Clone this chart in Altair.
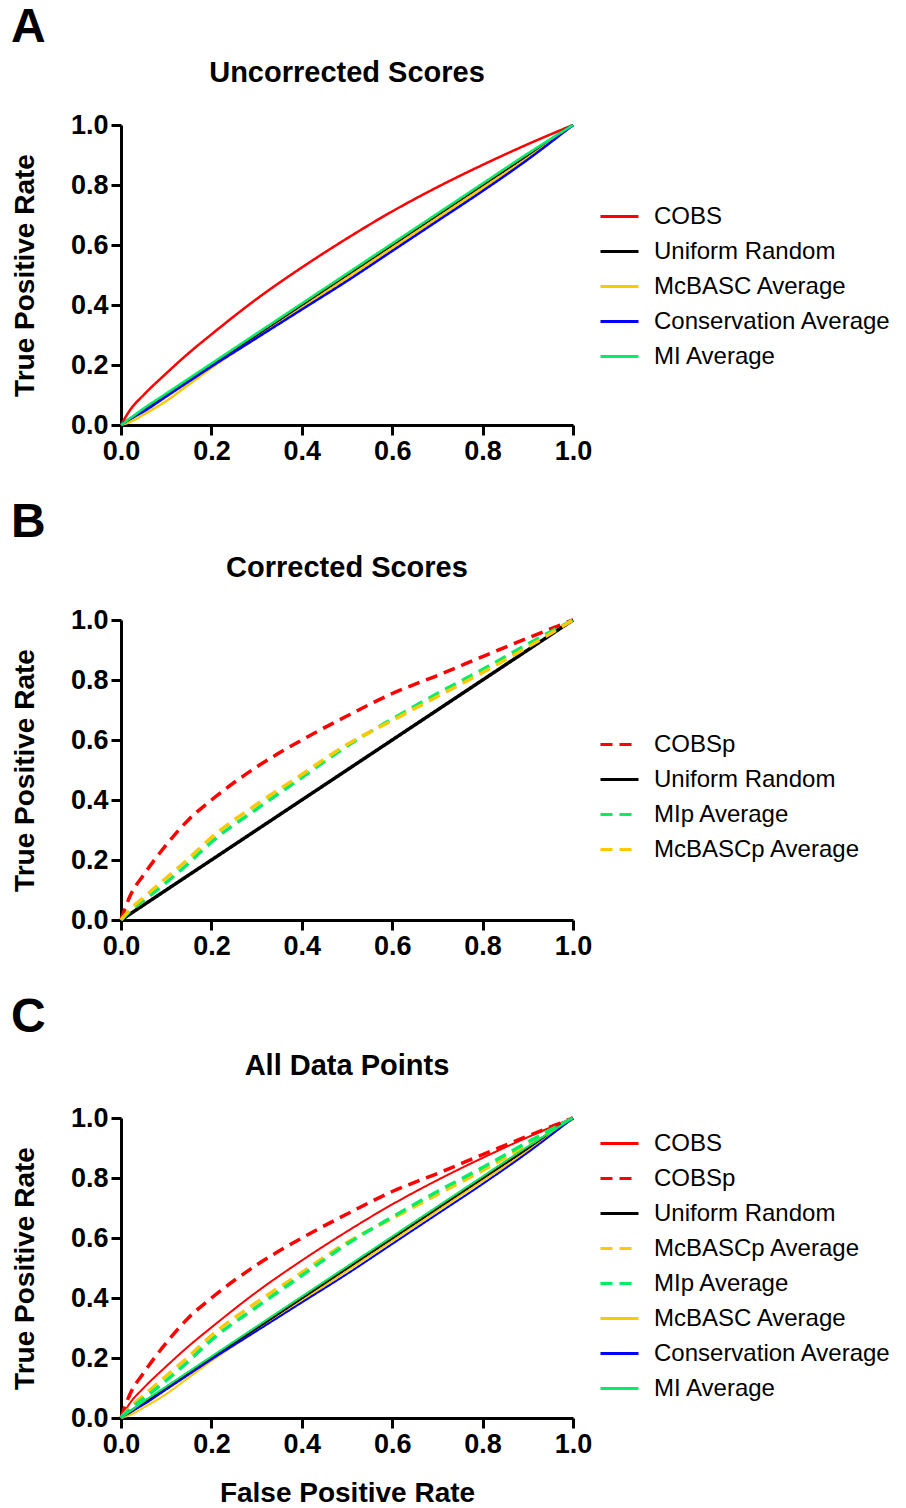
import altair as alt
import pandas as pd

FONT = "Liberation Sans"

FPR = [0, 0.02, 0.05, 0.1, 0.15, 0.2, 0.3, 0.4, 0.5, 0.6, 0.7, 0.8, 0.9, 1.0]

COBS = [0, 0.05, 0.10, 0.172, 0.240, 0.302, 0.42, 0.525, 0.622, 0.712, 0.793, 0.867, 0.936, 1.0]
UNIFORM = [0, 0.02, 0.05, 0.1, 0.15, 0.2, 0.3, 0.4, 0.5, 0.6, 0.7, 0.8, 0.9, 1.0]
MCBASC = [0, 0.01, 0.035, 0.08, 0.135, 0.19, 0.29, 0.39, 0.49, 0.59, 0.69, 0.79, 0.89, 1.0]
CONSERV = [0, 0.02, 0.045, 0.095, 0.145, 0.195, 0.29, 0.385, 0.48, 0.58, 0.68, 0.78, 0.885, 1.0]
MI = [0, 0.022, 0.055, 0.105, 0.155, 0.205, 0.305, 0.405, 0.505, 0.605, 0.705, 0.805, 0.905, 1.0]

COBSP = [0, 0.08, 0.15, 0.25, 0.335, 0.40, 0.51, 0.60, 0.68, 0.755, 0.815, 0.878, 0.94, 1.0]
MIP = [0, 0.03, 0.065, 0.125, 0.19, 0.26, 0.37, 0.475, 0.58, 0.67, 0.755, 0.835, 0.92, 1.0]
MCBASCP = [0, 0.035, 0.075, 0.14, 0.205, 0.275, 0.385, 0.485, 0.585, 0.665, 0.745, 0.825, 0.91, 1.0]

TICKS = [0, 0.2, 0.4, 0.6, 0.8, 1.0]

RED = "#FF0000"
BLACK = "#000000"
YELLOW = "#FFC800"
BLUE = "#0000FF"
GREEN = "#00EE66"
SOLID = [1, 0]
DASH = [12, 7]

A_NAMES = ["COBS", "Uniform Random", "McBASC Average", "Conservation Average", "MI Average"]
A_VALUES = [COBS, UNIFORM, MCBASC, CONSERV, MI]
A_COLORS = [RED, BLACK, YELLOW, BLUE, GREEN]
A_DASHES = [SOLID, SOLID, SOLID, SOLID, SOLID]
A_THICK = ["Uniform Random"]

B_NAMES = ["COBSp", "Uniform Random", "MIp Average", "McBASCp Average"]
B_VALUES = [COBSP, UNIFORM, MIP, MCBASCP]
B_COLORS = [RED, BLACK, GREEN, YELLOW]
B_DASHES = [DASH, SOLID, DASH, DASH]
B_THICK = B_NAMES

C_NAMES = ["COBS", "COBSp", "Uniform Random", "McBASCp Average", "MIp Average",
           "McBASC Average", "Conservation Average", "MI Average"]
C_VALUES = [COBS, COBSP, UNIFORM, MCBASCP, MIP, MCBASC, CONSERV, MI]
C_COLORS = [RED, RED, BLACK, YELLOW, GREEN, YELLOW, BLUE, GREEN]
C_DASHES = [SOLID, DASH, SOLID, DASH, DASH, SOLID, SOLID, SOLID]
C_THICK = ["COBSp", "McBASCp Average", "MIp Average", "Uniform Random"]


def make_df(names, values):
    rows = []
    for n, ys in zip(names, values):
        for x, y in zip(FPR, ys):
            rows.append({"series": n, "fpr": x, "tpr": y})
    return pd.DataFrame(rows)


def panel(letter, letter_y, title, names, values, colors, dashes, thick, thin_w, thick_w,
          lx, ly, xtitle):
    df = make_df(names, values)
    legend = alt.Legend(
        title=None, orient="none", legendX=lx, legendY=ly,
        labelFont=FONT, labelFontSize=24, labelColor="black", labelOffset=14,
        symbolSize=1444, symbolStrokeWidth=3, symbolType="stroke", rowPadding=2,
        labelLimit=400,
    )
    lines = alt.Chart(df).mark_line(interpolate="monotone").encode(
        x=alt.X("fpr:Q", scale=alt.Scale(domain=[0, 1], nice=False),
                axis=alt.Axis(values=TICKS, format=".1f", title=xtitle, titlePadding=22)),
        y=alt.Y("tpr:Q", scale=alt.Scale(domain=[0, 1], nice=False),
                axis=alt.Axis(values=TICKS, format=".1f", title="True Positive Rate",
                              titlePadding=31)),
        color=alt.Color("series:N", scale=alt.Scale(domain=names, range=colors), legend=legend),
        strokeDash=alt.StrokeDash("series:N", scale=alt.Scale(domain=names, range=dashes),
                                  legend=legend),
        strokeWidth=alt.condition(
            alt.FieldOneOfPredicate(field="series", oneOf=thick),
            alt.value(thick_w), alt.value(thin_w)),
    )
    lab = alt.Chart(pd.DataFrame({"t": [letter]})).mark_text(
        font=FONT, fontSize=48, fontWeight="bold", align="left", baseline="alphabetic",
        color="black"
    ).encode(text="t:N", x=alt.value(-110), y=alt.value(letter_y))
    ttl = alt.Chart(pd.DataFrame({"t": [title]})).mark_text(
        font=FONT, fontSize=29, fontWeight="bold", align="center", baseline="alphabetic",
        color="black"
    ).encode(text="t:N", x=alt.value(226), y=alt.value(-43))
    return alt.layer(lines, lab, ttl).properties(width=452, height=300)


pa = panel("A", -83, "Uncorrected Scores", A_NAMES, A_VALUES, A_COLORS, A_DASHES, A_THICK,
           2.5, 3, 478, 71, None)
pb = panel("B", -83, "Corrected Scores", B_NAMES, B_VALUES, B_COLORS, B_DASHES, B_THICK,
           3.5, 3.5, 478, 104, None)
pc = panel("C", -86, "All Data Points", C_NAMES, C_VALUES, C_COLORS, C_DASHES, C_THICK,
           2, 3.5, 478, 5, "False Positive Rate")

chart = alt.vconcat(pa, pb, pc, spacing=35).resolve_scale(
    color="independent", strokeDash="independent"
).resolve_legend(
    color="independent", strokeDash="independent"
).properties(
    padding={"top": -4, "left": 3, "right": 0, "bottom": 0}
).configure_axis(
    domainColor="black", domainWidth=3, tickColor="black", tickWidth=3, tickSize=10,
    labelFont=FONT, labelFontSize=27, labelFontWeight="bold", labelColor="black",
    labelPadding=3, labelFlush=False, labelOverlap=False,
    titleFont=FONT, titleFontSize=28, titleFontWeight="bold", titleColor="black",
    grid=False,
).configure_view(stroke=None)

chart.save("out.html", embed_options={"renderer": "svg", "actions": False})
